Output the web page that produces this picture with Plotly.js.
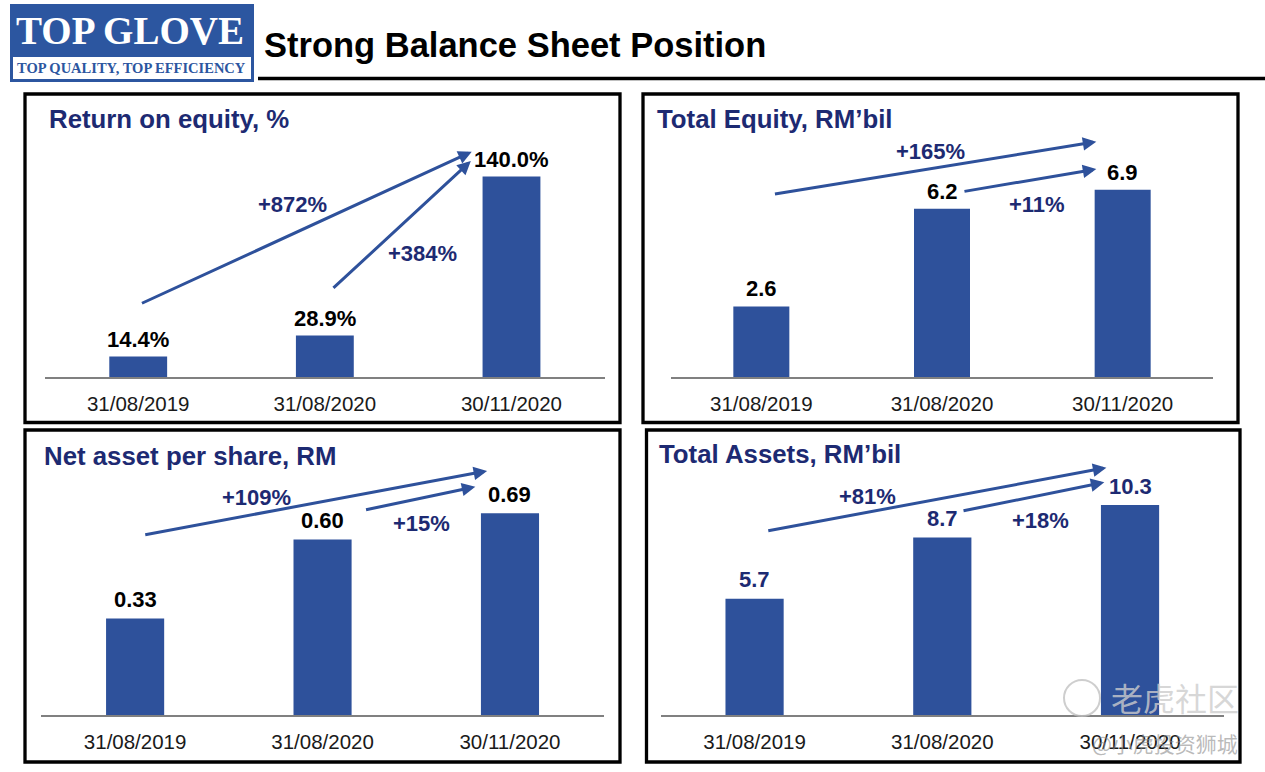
<!DOCTYPE html>
<html><head><meta charset="utf-8">
<script src="https://cdn.plot.ly/plotly-3.0.1.min.js"></script>
<style>html,body{margin:0;padding:0;background:#fff}#chart{width:1265px;height:772px}</style>
</head><body><div id="chart"></div>
<script>
// ---------- data ----------
const categories = ['31/08/2019', '31/08/2020', '30/11/2020'];

const roeValues = [14.4, 28.9, 140.0];
const roeLabels = ['14.4%', '28.9%', '140.0%'];
const roeGrowth = ['+872%', '+384%'];

const equityValues = [2.6, 6.2, 6.9];
const equityLabels = ['2.6', '6.2', '6.9'];
const equityGrowth = ['+165%', '+11%'];

const napsValues = [0.33, 0.60, 0.69];
const napsLabels = ['0.33', '0.60', '0.69'];
const napsGrowth = ['+109%', '+15%'];

const assetsValues = [5.7, 8.7, 10.3];
const assetsLabels = ['5.7', '8.7', '10.3'];
const assetsGrowth = ['+81%', '+18%'];

// ---------- styling / layout ----------
const W = 1265, H = 772;
const fx = p => p / W;
const fy = p => 1 - p / H;
const FONT = '"Liberation Sans", Arial, Helvetica, sans-serif';
const SERIF = '"Liberation Serif", "Times New Roman", serif';
const NAVY = '#1d2a72';
const BAR = '#2e519b';
const LOGO = '#2c56a0';

const panels = [
  { values: roeValues, labels: roeLabels, growth: roeGrowth, title: 'Return on equity, %',
    id: '', xl: 44.9, xr: 604.8, base: 377, top: 100, ymax: 193.4,
    titleX: 47, titleY: 119, labelColor: '#000', yshift: 17,
    arrows: [{ tail: [0.012, 51.0], head: [1.787, 157.3] }, { tail: [1.038, 61.2], head: [1.782, 150.8] }],
    growthPos: [[0.827, 120.1], [1.524, 85.9]],
    box: [25, 94, 620, 422.5] },
  { values: equityValues, labels: equityLabels, growth: equityGrowth, title: 'Total Equity, RM\u2019bil',
    id: '2', xl: 671, xr: 1213, base: 377, top: 100, ymax: 10.206,
    titleX: 655, titleY: 119, labelColor: '#000', yshift: 17.5,
    arrows: [{ tail: [0.067, 6.73], head: [1.854, 8.67] }, { tail: [1.116, 6.83], head: [1.854, 7.66] }],
    growthPos: [[0.939, 8.30], [1.528, 6.36]],
    box: [643, 94, 1238, 422.5] },
  { values: napsValues, labels: napsLabels, growth: napsGrowth, title: 'Net asset per share, RM',
    id: '3', xl: 41.4, xr: 603.7, base: 715, top: 436, ymax: 0.9545,
    titleX: 42, titleY: 456, labelColor: '#000', yshift: 18.7,
    arrows: [{ tail: [0.046, 0.616], head: [1.878, 0.835] }, { tail: [1.224, 0.701], head: [1.815, 0.781] }],
    growthPos: [[0.648, 0.743], [1.529, 0.656]],
    box: [25, 430, 620, 762] },
  { values: assetsValues, labels: assetsLabels, growth: assetsGrowth, title: 'Total Assets, RM\u2019bil',
    id: '4', xl: 660.7, xr: 1223.9, base: 715, top: 436, ymax: 13.683,
    titleX: 657, titleY: 454, labelColor: NAVY, yshift: 18.8,
    arrows: [{ tail: [0.065, 9.02], head: [1.874, 12.13] }, { tail: [1.105, 10.0], head: [1.863, 11.41] }],
    growthPos: [[0.604, 10.71], [1.524, 9.56]],
    box: [646.5, 430, 1240, 762] }
];

const data = [];
const annotations = [];
const shapes = [];
const layout = {
  width: W, height: H,
  margin: { l: 0, r: 0, t: 0, b: 0, pad: 0 },
  paper_bgcolor: '#fff', plot_bgcolor: 'rgba(0,0,0,0)',
  showlegend: false,
  bargap: 0.69,
  font: { family: FONT, color: '#000' },
  hovermode: false
};

panels.forEach(p => {
  const xa = 'x' + p.id, ya = 'y' + p.id;
  data.push({
    type: 'bar', x: categories, y: p.values,
    xaxis: xa, yaxis: ya,
    marker: { color: BAR, line: { width: 0 } },
    hoverinfo: 'skip'
  });
  layout['xaxis' + p.id] = {
    domain: [fx(p.xl), fx(p.xr)], anchor: ya, type: 'category',
    range: [-0.5, 2.5], fixedrange: true,
    showline: true, linecolor: '#808080', linewidth: 1.5,
    showgrid: false, zeroline: false, ticks: '',
    ticklabelstandoff: 8,
    tickfont: { family: FONT, size: 20.5, color: '#1a1a1a' }
  };
  layout['yaxis' + p.id] = {
    domain: [fy(p.base), fy(p.top)], anchor: xa,
    range: [0, p.ymax], fixedrange: true,
    visible: false, showgrid: false, zeroline: false
  };
  // value labels
  p.values.forEach((v, i) => {
    annotations.push({
      xref: xa, yref: ya, x: i, y: v, yshift: p.yshift,
      text: '<b>' + p.labels[i] + '</b>', showarrow: false,
      xanchor: 'center', yanchor: 'middle',
      font: { family: FONT, size: 22, color: p.labelColor }
    });
  });
  // growth arrows
  p.arrows.forEach(a => {
    annotations.push({
      xref: xa, yref: ya, axref: xa, ayref: ya,
      x: a.head[0], y: a.head[1], ax: a.tail[0], ay: a.tail[1],
      text: '', showarrow: true, arrowhead: 2, arrowsize: 0.9, arrowwidth: 3,
      arrowcolor: BAR, standoff: 0, startstandoff: 0
    });
  });
  // growth labels
  p.growth.forEach((g, i) => {
    annotations.push({
      xref: xa, yref: ya, x: p.growthPos[i][0], y: p.growthPos[i][1],
      text: '<b>' + g + '</b>', showarrow: false,
      xanchor: 'center', yanchor: 'middle',
      font: { family: FONT, size: 22, color: NAVY }
    });
  });
  // panel title
  annotations.push({
    xref: 'paper', yref: 'paper', x: fx(p.titleX), y: fy(p.titleY),
    text: '<b>' + p.title + '</b>', showarrow: false,
    xanchor: 'left', yanchor: 'middle',
    font: { family: FONT, size: 25.8, color: NAVY }
  });
  // panel frame
  shapes.push({
    type: 'rect', xref: 'paper', yref: 'paper',
    x0: fx(p.box[0]), x1: fx(p.box[2]), y0: fy(p.box[1]), y1: fy(p.box[3]),
    line: { color: '#000', width: 3.3 }, fillcolor: 'rgba(0,0,0,0)', layer: 'above'
  });
});

// header: logo
shapes.push({ type: 'rect', xref: 'paper', yref: 'paper', x0: fx(10), x1: fx(254), y0: fy(4), y1: fy(82),
  fillcolor: LOGO, line: { width: 0 }, layer: 'below' });
shapes.push({ type: 'rect', xref: 'paper', yref: 'paper', x0: fx(13), x1: fx(251), y0: fy(57), y1: fy(79),
  fillcolor: '#fff', line: { width: 0 }, layer: 'below' });
annotations.push({ xref: 'paper', yref: 'paper', x: fx(130), y: fy(30), text: '<b>TOP GLOVE</b>',
  showarrow: false, xanchor: 'center', yanchor: 'middle',
  font: { family: SERIF, size: 39, color: '#fff' } });
annotations.push({ xref: 'paper', yref: 'paper', x: fx(131), y: fy(68.5), text: '<b>TOP QUALITY, TOP EFFICIENCY</b>',
  showarrow: false, xanchor: 'center', yanchor: 'middle',
  font: { family: SERIF, size: 14.5, color: LOGO } });
// header: title + rule
annotations.push({ xref: 'paper', yref: 'paper', x: fx(262), y: fy(45), text: '<b>Strong Balance Sheet Position</b>',
  showarrow: false, xanchor: 'left', yanchor: 'middle',
  font: { family: FONT, size: 34.5, color: '#000' } });
shapes.push({ type: 'line', xref: 'paper', yref: 'paper', x0: fx(258), x1: fx(1265), y0: fy(78.5), y1: fy(78.5),
  line: { color: '#000', width: 3.5 } });

// watermark
shapes.push({ type: 'circle', xref: 'paper', yref: 'paper', x0: fx(1064), x1: fx(1100), y0: fy(680), y1: fy(716),
  line: { color: 'rgba(190,190,190,0.75)', width: 2 }, fillcolor: 'rgba(255,255,255,0.15)', layer: 'above' });
annotations.push({ xref: 'paper', yref: 'paper', x: fx(1175), y: fy(697), text: '老虎社区',
  showarrow: false, xanchor: 'center', yanchor: 'middle',
  font: { family: '"Noto Sans CJK SC", sans-serif', size: 32, color: 'rgba(205,205,205,0.8)' } });
annotations.push({ xref: 'paper', yref: 'paper', x: fx(1165), y: fy(743), text: '@小虎投资狮城',
  showarrow: false, xanchor: 'center', yanchor: 'middle',
  font: { family: '"Noto Sans CJK SC", sans-serif', size: 21, color: 'rgba(140,140,140,0.6)' } });

layout.annotations = annotations;
layout.shapes = shapes;

Plotly.newPlot('chart', data, layout, { displayModeBar: false, staticPlot: true });
</script>
</body></html>
